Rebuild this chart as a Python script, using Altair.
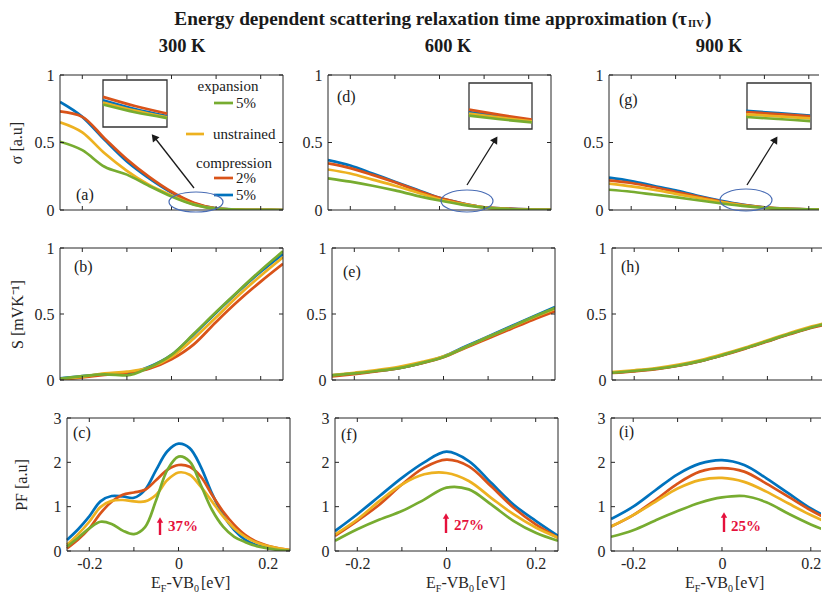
import altair as alt
import pandas as pd

FONT = "Liberation Serif"
INK = "#262626"
RED_NOTE = "#E5103C"

SERIES = ["compression 5%", "compression 2%", "unstrained", "expansion 5%"]
COLORS = ["#0072BD", "#D95319", "#EDB120", "#77AC30"]

E11 = [-0.25, -0.2, -0.15, -0.1, -0.05, 0.0, 0.05, 0.1, 0.15, 0.2, 0.25]
E21 = [-0.25, -0.225, -0.2, -0.175, -0.15, -0.125, -0.1, -0.075, -0.05, -0.025, 0.0,
       0.025, 0.05, 0.075, 0.1, 0.125, 0.15, 0.175, 0.2, 0.225, 0.25]

# conductivity sigma [a.u]  (series order: comp 5%, comp 2%, unstrained, exp 5%)
sig300 = [
    [0.80, 0.69, 0.52, 0.36, 0.235, 0.13, 0.05, 0.012, 0.003, 0.001, 0.0],
    [0.73, 0.69, 0.53, 0.375, 0.245, 0.135, 0.054, 0.013, 0.003, 0.001, 0.0],
    [0.65, 0.575, 0.42, 0.29, 0.185, 0.108, 0.042, 0.011, 0.003, 0.001, 0.0],
    [0.506, 0.443, 0.32, 0.262, 0.178, 0.10, 0.04, 0.01, 0.003, 0.001, 0.0],
]
sig600 = [
    [0.37, 0.33, 0.27, 0.21, 0.15, 0.09, 0.05, 0.02, 0.01, 0.004, 0.002],
    [0.345, 0.31, 0.26, 0.205, 0.145, 0.09, 0.05, 0.02, 0.01, 0.004, 0.002],
    [0.30, 0.27, 0.225, 0.18, 0.13, 0.08, 0.045, 0.02, 0.008, 0.003, 0.001],
    [0.235, 0.21, 0.18, 0.145, 0.105, 0.07, 0.04, 0.018, 0.008, 0.003, 0.001],
]
sig900 = [
    [0.24, 0.215, 0.18, 0.145, 0.105, 0.07, 0.04, 0.02, 0.01, 0.005, 0.002],
    [0.22, 0.20, 0.17, 0.135, 0.10, 0.065, 0.038, 0.02, 0.01, 0.005, 0.002],
    [0.195, 0.175, 0.15, 0.12, 0.09, 0.06, 0.035, 0.018, 0.009, 0.004, 0.002],
    [0.15, 0.135, 0.115, 0.095, 0.072, 0.05, 0.03, 0.016, 0.008, 0.004, 0.002],
]
# Seebeck S [mV/K]
see300 = [
    [0.013, 0.03, 0.043, 0.05, 0.10, 0.19, 0.345, 0.51, 0.67, 0.82, 0.955],
    [0.0, 0.02, 0.038, 0.056, 0.086, 0.157, 0.27, 0.44, 0.60, 0.745, 0.88],
    [0.005, 0.025, 0.05, 0.063, 0.094, 0.175, 0.315, 0.475, 0.64, 0.79, 0.93],
    [0.01, 0.03, 0.043, 0.035, 0.095, 0.19, 0.35, 0.515, 0.675, 0.83, 0.975],
]
see600 = [
    [0.035, 0.05, 0.068, 0.09, 0.128, 0.178, 0.255, 0.33, 0.405, 0.48, 0.553],
    [0.028, 0.045, 0.065, 0.09, 0.125, 0.172, 0.245, 0.315, 0.385, 0.455, 0.52],
    [0.037, 0.055, 0.075, 0.10, 0.135, 0.18, 0.25, 0.325, 0.398, 0.472, 0.54],
    [0.035, 0.05, 0.068, 0.09, 0.128, 0.175, 0.25, 0.325, 0.40, 0.475, 0.545],
]
see900 = [
    [0.055, 0.068, 0.085, 0.11, 0.145, 0.19, 0.24, 0.295, 0.35, 0.40, 0.44],
    [0.053, 0.066, 0.083, 0.108, 0.143, 0.187, 0.237, 0.292, 0.346, 0.396, 0.435],
    [0.06, 0.074, 0.091, 0.116, 0.151, 0.196, 0.246, 0.301, 0.356, 0.406, 0.446],
    [0.055, 0.068, 0.085, 0.11, 0.145, 0.19, 0.24, 0.295, 0.35, 0.40, 0.44],
]
# power factor PF [a.u]
pf300 = [
    [0.25, 0.49, 0.78, 1.12, 1.24, 1.23, 1.2, 1.38, 1.83, 2.25, 2.42, 2.32, 1.9, 1.3, 0.81, 0.47, 0.25, 0.13, 0.075, 0.04, 0.015],
    [0.06, 0.26, 0.51, 0.85, 1.11, 1.27, 1.32, 1.38, 1.6, 1.83, 1.94, 1.9, 1.68, 1.27, 0.89, 0.59, 0.36, 0.21, 0.12, 0.06, 0.02],
    [0.14, 0.38, 0.66, 0.99, 1.13, 1.15, 1.12, 1.12, 1.27, 1.6, 1.77, 1.72, 1.45, 1.12, 0.78, 0.51, 0.32, 0.19, 0.11, 0.06, 0.02],
    [0.1, 0.3, 0.51, 0.66, 0.61, 0.46, 0.38, 0.54, 1.15, 1.83, 2.13, 2.02, 1.49, 0.93, 0.55, 0.32, 0.2, 0.11, 0.06, 0.02, 0.01],
]
pf600 = [
    [0.45, 0.83, 1.24, 1.65, 2.0, 2.24, 2.03, 1.54, 1.05, 0.68, 0.34],
    [0.34, 0.68, 1.05, 1.5, 1.88, 2.06, 1.91, 1.46, 0.98, 0.6, 0.3],
    [0.37, 0.71, 1.13, 1.5, 1.73, 1.76, 1.58, 1.2, 0.83, 0.53, 0.3],
    [0.23, 0.49, 0.71, 0.9, 1.16, 1.43, 1.39, 1.05, 0.68, 0.41, 0.23],
]
pf900 = [
    [0.72, 1.0, 1.37, 1.73, 1.97, 2.05, 1.94, 1.64, 1.3, 0.96, 0.70],
    [0.55, 0.81, 1.15, 1.52, 1.79, 1.87, 1.79, 1.52, 1.22, 0.92, 0.66],
    [0.55, 0.81, 1.11, 1.41, 1.6, 1.65, 1.56, 1.34, 1.07, 0.81, 0.59],
    [0.32, 0.47, 0.69, 0.9, 1.09, 1.21, 1.24, 1.1, 0.84, 0.6, 0.4],
]
# magnified inset curves (sigma near the circled region)
inset_a_E = [-0.1536, -0.082, -0.010]
inset_a = [[0.813, 0.748, 0.696], [0.838, 0.770, 0.714], [0.796, 0.736, 0.687], [0.781, 0.724, 0.681]]
inset_d_E = [0.066, 0.136, 0.207]
inset_d = [[0.726, 0.693, 0.663], [0.744, 0.705, 0.669], [0.714, 0.684, 0.657], [0.699, 0.672, 0.649]]
inset_g_E = [0.059, 0.131, 0.203]
inset_g = [[0.734, 0.717, 0.700], [0.726, 0.710, 0.694], [0.709, 0.694, 0.679], [0.689, 0.674, 0.659]]

X_TICKS = [-0.2, -0.1, 0.0, 0.1, 0.2]
X_LABELS = [-0.2, 0.0, 0.2]
Y_TICKS_1 = [0, 0.5, 1]
Y_TICKS_3 = [0, 1, 2, 3]

ONE = pd.DataFrame({"k": [0]})


def txt(s, x, y, size=16, weight="normal", align="left", baseline="middle", color="black"):
    return alt.Chart(ONE).mark_text(text=s, font=FONT, fontSize=size, fontWeight=weight,
                                    align=align, baseline=baseline, color=color).encode(
        x=alt.value(x), y=alt.value(y))


def seg(x1, y1, x2, y2, color=INK, width=1.0):
    return alt.Chart(ONE).mark_rule(color=color, strokeWidth=width).encode(
        x=alt.value(x1), y=alt.value(y1), x2=alt.value(x2), y2=alt.value(y2))


def head(x, y, angle, color, size=70):
    return alt.Chart(ONE).mark_point(shape="triangle-up", filled=True, size=size, angle=angle,
                                     color=color, opacity=1).encode(x=alt.value(x), y=alt.value(y))


def ellipse(cx, cy, rx, ry):
    r = ry / rx
    path = f"M-1,0A1,{r:.3f},0,1,1,1,0A1,{r:.3f},0,1,1,-1,0Z"
    return alt.Chart(ONE).mark_point(shape=path, size=(2 * rx) ** 2, filled=False,
                                     stroke="#4a6db5", strokeWidth=1.2, opacity=1).encode(
        x=alt.value(cx), y=alt.value(cy))


def xsub_title(H, x0):
    y = H + 37
    return [
        txt("E", x0, y, 16, baseline="alphabetic", color=INK),
        txt("F", x0 + 9.8, y + 3.5, 10, baseline="alphabetic", color=INK),
        txt("-VB", x0 + 15.4, y, 16, baseline="alphabetic", color=INK),
        txt("0", x0 + 43.0, y + 3.5, 10, baseline="alphabetic", color=INK),
        txt("[eV]", x0 + 50.0, y, 16, baseline="alphabetic", color=INK),
    ]


def panel(label, label_xy, E, vals, ymax, yticks, W, H, xdom, right_side=True,
          bottom=False, ytitle=None, titlepad=10, interp="monotone", extras=None,
          inset=None, off=0):
    if off:
        xscale = alt.Scale(domain=xdom, nice=False, zero=False, range=[off, off + W])
    else:
        xscale = alt.Scale(domain=xdom, nice=False, zero=False)
    yscale = alt.Scale(domain=[0, ymax], nice=False, zero=False)
    if bottom:
        xaxis = alt.Axis(values=X_LABELS, labelExpr="toString(datum.value)", domain=False,
                         ticks=False, grid=False, title=None, labelFont=FONT, labelFontSize=16,
                         labelColor=INK, labelPadding=4, labelFlush=False)
    else:
        xaxis = None
    yargs = dict(values=yticks, labelExpr="toString(datum.value)", domain=False, ticks=False,
                 grid=False, labelFont=FONT, labelFontSize=16, labelColor=INK, labelPadding=6,
                 minExtent=26, maxExtent=26)
    if off:
        yargs["offset"] = -off
    if ytitle:
        yaxis = alt.Axis(title=ytitle, titleFont=FONT, titleFontSize=16, titleFontWeight="normal",
                         titleColor=INK, titlePadding=titlepad, **yargs)
    else:
        yaxis = alt.Axis(title=None, **yargs)
    xenc = alt.X("E:Q", scale=xscale, axis=xaxis)
    yenc = alt.Y("v:Q", scale=yscale, axis=yaxis)

    layers = []
    for i in range(4):
        df = pd.DataFrame({"E": E, "v": vals[i]})
        layers.append(alt.Chart(df).mark_line(color=COLORS[i], strokeWidth=2.7,
                                              interpolate=interp, clip=True).encode(x=xenc, y=yenc))
    # frame
    L, R = off, off + W
    layers.append(seg(L, 0, R, 0))
    layers.append(seg(L, H, R, H))
    layers.append(seg(L, 0, L, H))
    if right_side:
        layers.append(seg(R, 0, R, H))
    # inner ticks
    xt = pd.DataFrame({"E": X_TICKS})
    layers.append(alt.Chart(xt).mark_rule(color=INK, strokeWidth=1).encode(
        x=xenc, y=alt.value(H), y2=alt.value(H - 4)))
    layers.append(alt.Chart(xt).mark_rule(color=INK, strokeWidth=1).encode(
        x=xenc, y=alt.value(0), y2=alt.value(4)))
    yt = pd.DataFrame({"v": yticks})
    layers.append(alt.Chart(yt).mark_rule(color=INK, strokeWidth=1).encode(
        y=yenc, x=alt.value(L), x2=alt.value(L + 4)))
    if right_side:
        layers.append(alt.Chart(yt).mark_rule(color=INK, strokeWidth=1).encode(
            y=yenc, x=alt.value(R - 4), x2=alt.value(R)))
    if inset is not None:
        (bx1, by1, bx2, by2), iE, ivals = inset
        layers.append(alt.Chart(ONE).mark_rect(fill="white", stroke="#333333", strokeWidth=1.3).encode(
            x=alt.value(bx1), x2=alt.value(bx2), y=alt.value(by1), y2=alt.value(by2)))
        for i in range(4):
            df = pd.DataFrame({"E": iE, "v": ivals[i]})
            layers.append(alt.Chart(df).mark_line(color=COLORS[i], strokeWidth=2.7,
                                                  interpolate="monotone").encode(x=xenc, y=yenc))
    layers.append(txt(label, label_xy[0] + off, label_xy[1], 16, color="#1a1a1a"))
    if extras:
        layers.extend(extras)
    return alt.layer(*layers).properties(width=W + off, height=H)


W, W3 = 223, 210
H1, H2, H3 = 135, 132, 133
DOM = [-0.25, 0.25]
DOM3 = [-0.25, 0.223]
OFF3 = 7

# ---- legend & annotations for panel (a)
legend_a = [
    txt("expansion", 168, 11, 15, align="center", color="#1a1a1a"),
    seg(154, 28, 173, 28, COLORS[3], 2.7), txt("5%", 176, 28, 15, color="#1a1a1a"),
    seg(126, 59, 144, 59, COLORS[2], 2.7), txt("unstrained", 153, 59, 15, color="#1a1a1a"),
    txt("compression", 174, 88, 15, align="center", color="#1a1a1a"),
    seg(154, 103, 173, 103, COLORS[1], 2.7), txt("2%", 176, 103, 15, color="#1a1a1a"),
    seg(154, 120, 173, 120, COLORS[0], 2.7), txt("5%", 176, 120, 15, color="#1a1a1a"),
]
ann_a = legend_a + [ellipse(136, 127, 27, 10), seg(134, 113, 95, 63, "#1a1a1a", 1.3),
                    head(94, 62, 322, "#1a1a1a", 70)]
ann_d = [ellipse(139, 126, 26, 11), seg(139, 110, 167, 65, "#1a1a1a", 1.3),
         head(167.5, 64.5, 32, "#1a1a1a", 70)]
ann_g = [ellipse(137, 125, 26, 11), seg(138, 110, 166, 65, "#1a1a1a", 1.3),
         head(166.5, 64.5, 32, "#1a1a1a", 70)]


def pf_note(x, y0, y1, tx, ty, s):
    return [seg(x, y0, x, y1 + 4, RED_NOTE, 2.4), head(x, y1 + 3, 0, RED_NOTE, 40),
            txt(s, tx, ty, 15, weight="bold", color=RED_NOTE)]


pa = panel("(a)", (16, 120), E11, sig300, 1, Y_TICKS_1, W, H1, DOM, ytitle="σ [a.u]",
           titlepad=10, extras=ann_a, inset=((43, 5, 107, 52), inset_a_E, inset_a))
pd_ = panel("(d)", (9, 22), E11, sig600, 1, Y_TICKS_1, W, H1, DOM, extras=ann_d,
            inset=((141, 8, 204, 54), inset_d_E, inset_d))
pg = panel("(g)", (10, 25), E11, sig900, 1, Y_TICKS_1, W3, H1, DOM3, right_side=False,
           extras=ann_g, inset=((138, 8, 202, 54), inset_g_E, inset_g))

pb = panel("(b)", (14, 19), E11, see300, 1, Y_TICKS_1, W, H2, DOM, ytitle="S [mVK⁻¹]", titlepad=9)
pe = panel("(e)", (11, 24), E11, see600, 1, Y_TICKS_1, W, H2, DOM)
ph = panel("(h)", (9, 19), E11, see900, 1, Y_TICKS_1, W3, H2, DOM3, right_side=False)

pc = panel("(c)", (6, 15), E21, pf300, 3, Y_TICKS_3, W, H3, DOM, bottom=True, ytitle="PF [a.u]",
           titlepad=12, interp="catmull-rom", off=OFF3,
           extras=pf_note(93 + OFF3, 117, 99, 101 + OFF3, 108, "37%") + xsub_title(H3, 84 + OFF3))
pf_ = panel("(f)", (6, 17), E11, pf600, 3, Y_TICKS_3, W, H3, DOM, bottom=True, interp="catmull-rom",
            extras=pf_note(111, 115, 95, 119, 107, "27%") + xsub_title(H3, 91))
pi = panel("(i)", (8, 14), E11, pf900, 3, Y_TICKS_3, W3, H3, DOM3, right_side=False, bottom=True,
           interp="catmull-rom",
           extras=pf_note(113, 114, 94, 120, 108, "25%") + xsub_title(H3, 74))

row1 = alt.hconcat(pa, alt.hconcat(pd_, pg, spacing=31), spacing=18)
row2 = alt.hconcat(pb, alt.hconcat(pe, ph, spacing=30), spacing=22)
row3 = alt.hconcat(pc, alt.hconcat(pf_, pi, spacing=26), spacing=18)

# header (x origin = left edge of panel (a)): main title and temperature labels
anchor = 627
header = alt.layer(
    txt("Energy dependent scattering relaxation time approximation (τ", anchor, 11, 19.3,
        weight="bold", align="right", baseline="middle", color="#1a1a1a"),
    txt("IIV", anchor + 1, 16, 10.5, weight="bold", align="left", baseline="middle", color="#1a1a1a"),
    txt(")", anchor + 18, 11, 19.3, weight="bold", align="left", baseline="middle", color="#1a1a1a"),
    txt("300 K", 122, 38, 18.5, weight="bold", align="center", color="#1a1a1a"),
    txt("600 K", 388, 38, 18.5, weight="bold", align="center", color="#1a1a1a"),
    txt("900 K", 659, 38, 18.5, weight="bold", align="center", color="#1a1a1a"),
).properties(width=700, height=47)

chart = alt.vconcat(header, alt.vconcat(row1, row2, row3, spacing=22), spacing=11).properties(
    padding=0, background="white"
).configure_view(stroke=None)

chart.save("out.html", embed_options={"renderer": "svg", "actions": False})
